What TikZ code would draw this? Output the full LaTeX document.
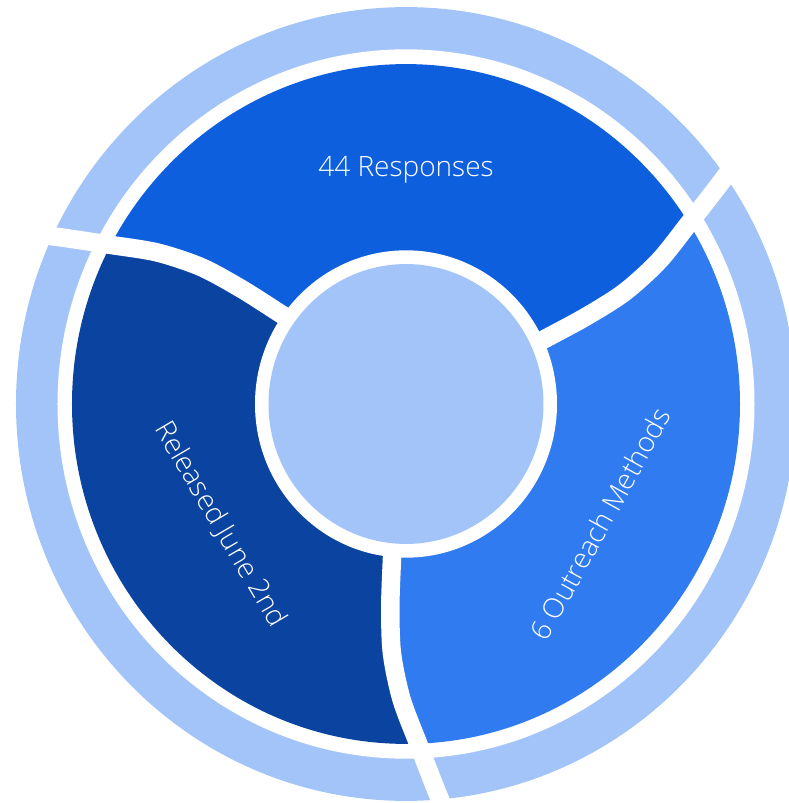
\documentclass[tikz,border=0pt]{standalone}
\usepackage{fontspec}
\setmainfont{Open Sans}[UprightFont={* Light}]
\definecolor{ringlight}{HTML}{A3C4F8}
\definecolor{segtop}{HTML}{0E5FDD}
\definecolor{segleft}{HTML}{0A44A0}
\definecolor{segright}{HTML}{307BF0}
\tikzset{
  lbl/.style={text=white, font=\fontsize{28}{32}\selectfont, anchor=mid, inner sep=0pt},
  gapline/.style={draw=white, line width=18.5pt}
}
\begin{document}
\begin{tikzpicture}[x=1pt,y=1pt]
\begin{scope}[yscale=1.0177]
\useasboundingbox (-406,-392.06) rectangle (383,396.97);
% outer light ring
\fill[ringlight] (0,0) circle (390);
\fill[white] (0,0) circle (348.5);
% coloured segments
\begin{scope}
\clip (0,0) circle (334);
\foreach \a/\c in {0/segright,120/segtop,240/segleft}{
  \begin{scope}[rotate=\a]
  \fill[\c] (0,0) -- plot[smooth] coordinates {(264.6:140) (264.8:157) (265.5:200) (266.7:245) (269.1:290) (272.1:334) (273.0:350) (275.0:390) (276.5:420)}
    -- (300:700) -- (330:700) -- (360:700)
    -- plot[smooth] coordinates {(396.5:420) (395.0:390) (393.0:350) (392.1:334) (389.1:290) (386.7:245) (385.5:200) (384.8:157) (384.6:140)} -- cycle;
  \end{scope}
}
\end{scope}
% centre
\fill[white] (0,0) circle (151);
\fill[ringlight] (0,0) circle (137.5);
% gaps
\foreach \a in {0,120,240}{
  \begin{scope}[rotate=\a]
  \draw[gapline] plot[smooth] coordinates {(264.7:150) (264.8:157) (265.5:200) (266.7:245) (269.1:290) (272.1:334) (273.0:350) (275.0:390) (276.5:420)};
  \end{scope}
}
% labels
\node[lbl] (t1) at (90:226) {44 Responses};
\node[lbl, rotate=-59.5] (t2) at (212.5:226) {Released June 2nd};
\node[lbl, rotate=61] (t3) at (328.8:235) {6 Outreach Methods};
\end{scope}
\end{tikzpicture}
\end{document}
